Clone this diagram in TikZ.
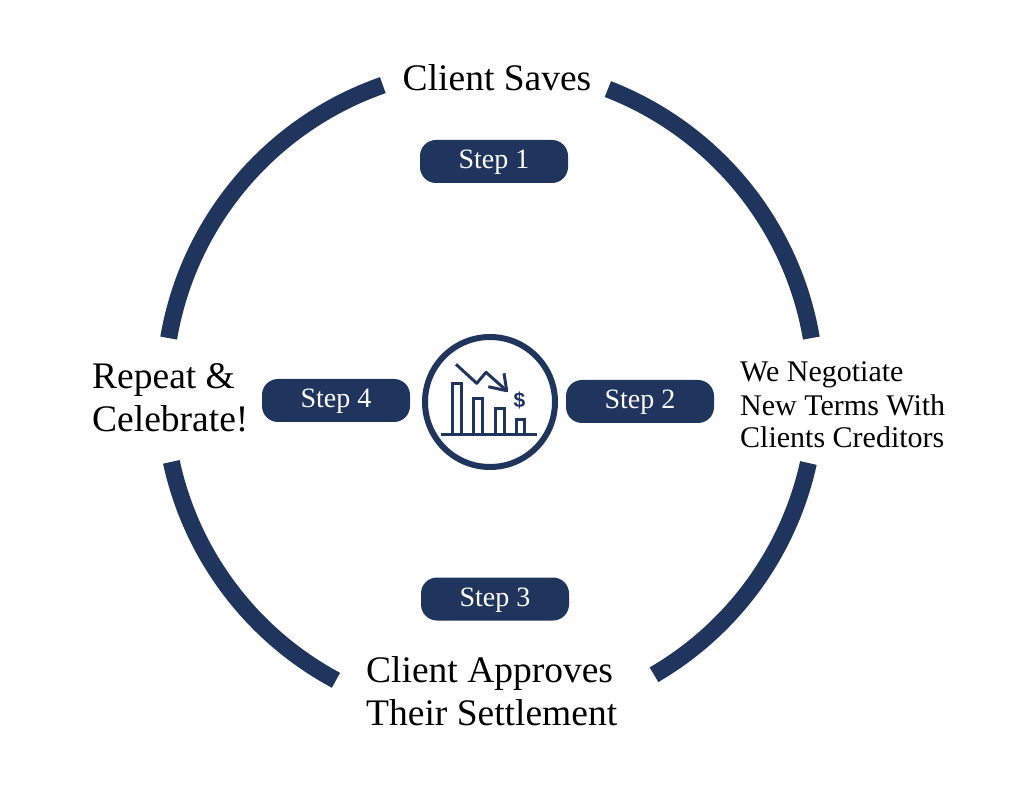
\documentclass[tikz,border=0pt]{standalone}
\usepackage{fontspec}
\setmainfont{Liberation Serif}
\setsansfont{Liberation Sans}
\definecolor{navy}{RGB}{31,53,94}
\tikzset{
  ring/.style={draw=navy, line width=17pt, line cap=butt},
  pill/.style={fill=navy, rounded corners=16pt, minimum width=148pt, minimum height=43pt, inner sep=0pt, text height=22pt, text depth=7pt, text=white, font=\fontsize{28}{32}\selectfont},
  biglabel/.style={inner sep=0pt, align=left, font=\fontsize{37.5}{43}\selectfont},
  midlabel/.style={inner sep=0pt, align=left, font=\fontsize{30}{33}\selectfont},
  iconline/.style={draw=navy, line width=3pt, line join=miter}
}
\begin{document}
\begin{tikzpicture}[x=1pt,y=1pt]
\useasboundingbox[fill=white] (0,0) rectangle (1024,801);
\coordinate (c) at (490,408);
% ring arcs
\draw[ring] ([shift={(68.8:326)}]c) arc[start angle=68.8, end angle=9.7, radius=326];
\draw[ring] ([shift={(-12.4:326)}]c) arc[start angle=-12.4, end angle=-59.8, radius=326];
\draw[ring] ([shift={(241.8:326)}]c) arc[start angle=241.8, end angle=192.2, radius=326];
\draw[ring] ([shift={(170.3:326)}]c) arc[start angle=170.3, end angle=109.2, radius=326];
% labels
\node[biglabel, anchor=base] (saves) at (497,710) {Client Saves};
\node[biglabel, anchor=base west] (repeat) at (92,369) {Repeat \&\\Celebrate!};
\node[midlabel, anchor=base west] (nego) at (740,353) {We Negotiate\\New Terms With\\Clients Creditors};
\node[biglabel, anchor=base west] (approve) at (366,76) {Client Approves\\Their Settlement};
% pills
\node[pill] (s1) at (494,639.5) {Step 1};
\node[pill] (s2) at (640,399.5) {Step 2};
\node[pill] (s3) at (495,202) {Step 3};
\node[pill] (s4) at (336,400.5) {Step 4};
% centre icon
\node[draw=navy, line width=6pt, circle, minimum size=130pt, inner sep=0pt] (hub) at (490,399) {};
\draw[iconline] (441,366) -- (537,366);
\draw[iconline] (452.5,366) rectangle (461.5,417.5);
\draw[iconline] (473.5,366) rectangle (482.5,402.5);
\draw[iconline] (495.5,366) rectangle (504.5,392.5);
\draw[iconline] (516.5,366) rectangle (524.5,381.5);
\draw[iconline, line join=round] (456,436.7) -- (476.7,417.7) -- (486,428.7) -- (506.7,410.3);
\draw[iconline, line join=round] (488.3,414.3) -- (506.7,410.3) -- (504,427.7);
\node[text=navy, inner sep=0pt, font=\sffamily\bfseries\fontsize{21}{22}\selectfont] (dollar) at (519.5,401) {\$};
\end{tikzpicture}
\end{document}
